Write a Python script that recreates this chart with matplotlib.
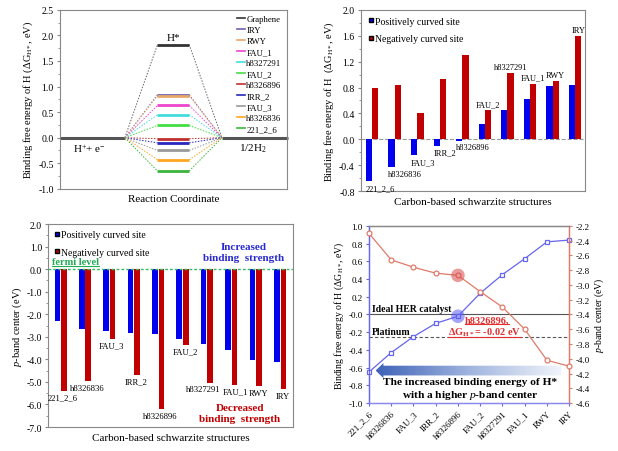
import matplotlib
matplotlib.use('Agg')
import matplotlib.pyplot as plt
import numpy as np
from matplotlib.patches import FancyArrow
from matplotlib.lines import Line2D
from matplotlib.colors import LinearSegmentedColormap
from matplotlib.ticker import AutoMinorLocator, FormatStrFormatter

plt.rcParams['font.family'] = ['Liberation Serif', 'DejaVu Serif']
plt.rcParams['mathtext.fontset'] = 'custom'
plt.rcParams['mathtext.rm'] = 'Liberation Serif'
plt.rcParams['mathtext.it'] = 'Liberation Serif:italic'
plt.rcParams['mathtext.bf'] = 'Liberation Serif:bold'

# ---------------- data ----------------
structures = ['221_2_6', 'h8326836', 'FAU_3', 'IRR_2', 'h8326896',
              'FAU_2', 'h8327291', 'FAU_1', 'RWY', 'IRY']
dg_pos = [-0.65, -0.43, -0.25, -0.10, -0.02, 0.24, 0.45, 0.63, 0.82, 0.84]
dg_neg = [0.79, 0.84, 0.40, 0.93, 1.30, 0.45, 1.02, 0.86, 0.90, 1.59]
pb_pos = [-2.30, -2.66, -2.76, -2.84, -2.87, -3.09, -3.30, -3.60, -4.02, -4.10]
pb_neg = [-5.40, -4.97, -3.10, -4.70, -6.22, -3.37, -5.05, -5.12, -5.20, -5.33]

level_names = ['Graphene', 'IRY', 'RWY', 'FAU_1', 'h8327291', 'FAU_2',
               'h8326896', 'IRR_2', 'FAU_3', 'h8326836', '221_2_6']
level_values = [1.82, 0.84, 0.82, 0.63, 0.45, 0.24, -0.02, -0.10, -0.25, -0.43, -0.65]
level_colors = ['#333333', '#7060B0', '#E8A868', '#EE44CC', '#44DDDD', '#44DD44',
                '#C03030', '#2828C0', '#999999', '#FFA520', '#3CB43C']
platinum_dg = -0.255
highlight = 'h8326896'

# small horizontal nudges for crowded labels in the p-band panel (layout only)
label_nudge_bl = {'h8327291': -0.27, 'FAU_1': 0.08}

fig = plt.figure(figsize=(6.18, 4.52), dpi=100)
GRAY = '#888888'
BLUE = '#0000EE'
RED = '#C00000'


def style_spines(ax, color=GRAY):
    for s in ax.spines.values():
        s.set_color(color)
        s.set_linewidth(0.8)


def underline(ax, txt, color, lw=0.8):
    fig.canvas.draw()
    bb = txt.get_window_extent()
    inv = ax.transAxes.inverted()
    (x0, y0), (x1, y1) = inv.transform([[bb.x0, bb.y0], [bb.x1, bb.y1]])
    ax.plot([x0, x1], [y0 + 0.004, y0 + 0.004], transform=ax.transAxes,
            color=color, lw=lw, clip_on=False)


# ---------------- top-left: energy diagram ----------------
ax1 = fig.add_axes([0.097, 0.580, 0.367, 0.396])
xl, xa, xb, xr = 0.286, 0.43, 0.57, 0.714
ax1.plot([0, xl], [0, 0], color='#555555', lw=2.2, solid_capstyle='butt')
ax1.plot([xr, 1.005], [0, 0], color='#555555', lw=2.2, solid_capstyle='butt', clip_on=False)
for name, v, c in zip(level_names, level_values, level_colors):
    cc = c if name != 'Graphene' else '#666666'
    ax1.plot([xl, xa], [0, v], color=cc, lw=0.7, ls=(0, (1.5, 1.5)))
    ax1.plot([xb, xr], [v, 0], color=cc, lw=0.7, ls=(0, (1.5, 1.5)))
for name, v, c in zip(level_names, level_values, level_colors):
    ax1.plot([xa, xb], [v, v], color=c, lw=2.0, solid_capstyle='butt')
handles = [Line2D([0], [0], color=c, lw=1.2) for c in level_colors]
ax1.legend(handles, level_names, loc='upper right', frameon=False, fontsize=6.3,
           handlelength=0.9, handletextpad=0.15, labelspacing=0.33,
           borderaxespad=0.2)
ax1.text(0.5, 1.87, 'H*', ha='center', va='bottom', fontsize=8)
ax1.text(0.13, -0.08, 'H$^{+}$+ e$^{-}$', ha='center', va='top', fontsize=8)
ax1.text(0.85, -0.08, '1/2H$_2$', ha='center', va='top', fontsize=8)
ax1.set_xlim(0, 1)
ax1.set_ylim(-1.0, 2.5)
ax1.set_yticks(np.arange(-1.0, 2.51, 0.5))
ax1.yaxis.set_major_formatter(FormatStrFormatter('%.1f'))
ax1.yaxis.set_minor_locator(AutoMinorLocator(2))
ax1.set_xticks([])
ax1.tick_params(axis='y', which='both', labelsize=7, direction='out', length=2.5,
                color=GRAY, pad=2)
ax1.tick_params(axis='y', which='minor', length=1.5)
ax1.set_ylabel('Binding free energy of H (ΔG$_{\\mathrm{H*}}$, eV)', fontsize=7.5, labelpad=2)
ax1.set_xlabel('Reaction Coordinate', fontsize=8, labelpad=4)
style_spines(ax1)

# ---------------- top-right: ΔG bars ----------------
ax2 = fig.add_axes([0.584, 0.575, 0.363, 0.401])
x = np.arange(len(structures))
w = 0.28
ax2.bar(x - w / 2, dg_pos, w, color=BLUE, zorder=2)
ax2.bar(x + w / 2, dg_neg, w, color=RED, zorder=2)
ax2.axhline(0, color='#999999', ls='--', lw=0.8, zorder=1)
for i, s in enumerate(structures):
    if dg_pos[i] < 0:
        ax2.text(x[i] - w, dg_pos[i] - 0.04, s, ha='left', va='top', fontsize=6)
    else:
        ax2.text(x[i] + w / 2, dg_neg[i] + 0.03, s, ha='center', va='bottom', fontsize=6)
leg_h = [Line2D([0], [0], marker='s', color='none', markerfacecolor=BLUE, markersize=3.5),
         Line2D([0], [0], marker='s', color='none', markerfacecolor=RED, markersize=3.5)]
ax2.legend(leg_h, ['Positively curved site', 'Negatively curved site'], loc='upper left',
           frameon=False, fontsize=7, handlelength=0.6, handletextpad=0.1,
           labelspacing=0.9, borderaxespad=0.3)
ax2.set_xlim(-0.5, 9.45)
ax2.set_ylim(-0.8, 2.0)
ax2.set_yticks(np.arange(-0.8, 2.01, 0.4))
ax2.yaxis.set_major_formatter(FormatStrFormatter('%.1f'))
ax2.yaxis.set_minor_locator(AutoMinorLocator(2))
ax2.set_xticks([])
ax2.tick_params(axis='y', which='both', labelsize=7, direction='out', length=2.5,
                color=GRAY, pad=2)
ax2.tick_params(axis='y', which='minor', length=1.5)
ax2.set_ylabel('Binding free energy of H  (ΔG$_{\\mathrm{H*}}$, eV)', fontsize=7.5, labelpad=2)
ax2.set_xlabel('Carbon-based schwarzite structures', fontsize=8, labelpad=4)
style_spines(ax2)

# ---------------- bottom-left: p-band centre bars ----------------
ax3 = fig.add_axes([0.078, 0.053, 0.396, 0.449])
wb = 0.23
off = 0.135
ax3.bar(x - off, pb_pos, wb, color=BLUE, zorder=2)
ax3.bar(x + off, pb_neg, wb, color=RED, zorder=2)
ax3.axhline(0, color='#33BB66', ls=(0, (2, 1.5)), lw=1.0, zorder=3)
for i, s in enumerate(structures):
    ax3.text(x[i] + 0.1 + label_nudge_bl.get(s, 0.0), pb_neg[i] - 0.1, s,
             ha='center', va='top', fontsize=6.2)
ax3.legend(leg_h, ['Positively curved site', 'Negatively curved site'], loc='upper left',
           frameon=False, fontsize=7, handlelength=0.6, handletextpad=0.1,
           labelspacing=0.9, borderaxespad=0.2)
fl = ax3.text(-0.36, 0.32, 'fermi level', ha='left', va='center', fontsize=7.5,
              color='#22AA55', fontweight='bold')
ax3.text(7.5, 0.77, 'Increased\nbinding  strength', ha='center', va='center',
         fontsize=8, color='#2A2AD0', fontweight='bold', linespacing=1.2)
ax3.text(7.36, -6.38, 'Decreased\nbinding  strength', ha='center', va='center',
         fontsize=8, color=RED, fontweight='bold', linespacing=1.2)
ax3.set_xlim(-0.51, 9.53)
ax3.set_ylim(-7.0, 2.0)
ax3.set_yticks(np.arange(-7.0, 2.01, 1.0))
ax3.yaxis.set_major_formatter(FormatStrFormatter('%.1f'))
ax3.yaxis.set_minor_locator(AutoMinorLocator(2))
ax3.set_xticks([])
ax3.tick_params(axis='y', which='both', labelsize=7, direction='out', length=2.5,
                color=GRAY, pad=2)
ax3.tick_params(axis='y', which='minor', length=1.5)
ax3.set_ylabel('$p$-band center (eV)', fontsize=7.5, labelpad=2)
ax3.set_xlabel('Carbon-based schwarzite structures', fontsize=8, labelpad=4)
style_spines(ax3)

# ---------------- bottom-right: correlation ----------------
ax4 = fig.add_axes([0.597, 0.106, 0.324, 0.392])
LB = '#6666EE'
LR = '#E07A6A'
ax4.axhline(0, color='#555555', lw=0.8, zorder=1)
ax4.axhline(platinum_dg, color='#555555', lw=0.8, ls=(0, (3, 2)), zorder=1)

# gradient arrow
arrow = FancyArrow(8.65, -0.633, -8.35, 0, width=0.11, head_width=0.17,
                   head_length=0.35, length_includes_head=True,
                   facecolor='none', edgecolor='none', transform=ax4.transData)
ax4.add_patch(arrow)
cmap = LinearSegmentedColormap.from_list('g', ['#3F62B8', '#9FB4DE', '#F2F5FB'])
grad = np.linspace(0, 1, 256).reshape(1, -1)
im = ax4.imshow(grad, extent=[0.3, 8.65, -0.73, -0.54], aspect='auto', cmap=cmap,
                zorder=1.5, interpolation='bilinear')
im.set_clip_path(arrow)

ax4.plot(x, dg_pos, color=LB, marker='s', mfc='white', mec=LB, ms=3.5, lw=0.9,
         mew=0.9, zorder=4, clip_on=False)
hi = structures.index(highlight)
ax4.scatter([x[hi]], [dg_pos[hi]], s=95, color='#5A5AF5', alpha=0.55, zorder=5,
            edgecolors='none')
ax4.set_xlim(0, 9)
ax4.set_ylim(-1.0, 1.0)
ax4.set_yticks(np.arange(-1.0, 1.01, 0.2))
ax4.yaxis.set_major_formatter(FormatStrFormatter('%.1f'))
ax4.set_xticks(x)
ax4.set_xticklabels(structures, rotation=45, ha='right', rotation_mode='anchor',
                    fontsize=6.5)
ax4.tick_params(axis='y', labelsize=6.5, direction='out', length=2.5, color=LB, pad=2)
ax4.tick_params(axis='x', direction='out', length=2.5, color=LB, pad=2)
ax4.set_ylabel('Binding free energy of H (ΔG$_{\\mathrm{H*}}$, eV)', fontsize=7, labelpad=2)

ax4.text(0.12, 0.02, 'Ideal HER catalyst', ha='left', va='bottom', fontsize=7,
         fontweight='bold', zorder=6)
ax4.text(0.15, platinum_dg + 0.015, 'Platinum', ha='left', va='bottom', fontsize=7,
         fontweight='bold', zorder=6)
t1 = ax4.text(5.31, -0.066, 'h8326896,', ha='center', va='center', fontsize=7.5,
              color='#E03030', fontweight='bold', zorder=6)
t2 = ax4.text(5.2, -0.19, 'ΔG$_{\\mathbf{H*}}$= -0.02 eV', ha='center', va='center',
              fontsize=7.5, color='#E03030', fontweight='bold', zorder=6)
ax4.text(4.54, -0.84, 'The increased binding energy of H*\nwith a higher $\\mathbf{\\mathit{p}}$-band center',
         ha='center', va='center', fontsize=8.2, fontweight='bold', linespacing=1.15,
         zorder=6)

ax5 = ax4.twinx()
ax5.plot(x, pb_pos, color=LR, marker='o', mfc='white', mec=LR, ms=3.5, lw=0.9,
         mew=0.9, zorder=4, clip_on=False)
ax5.scatter([x[hi]], [pb_pos[hi]], s=95, color='#D84A4A', alpha=0.55, zorder=5,
            edgecolors='none')
ax5.set_ylim(-4.6, -2.2)
ax5.set_yticks(np.arange(-4.6, -2.19, 0.2))
ax5.yaxis.set_major_formatter(FormatStrFormatter('%.1f'))
ax5.tick_params(axis='y', labelsize=6.5, direction='out', length=2.5, color=LR, pad=2)
ax5.set_ylabel('$p$-band center (eV)', fontsize=7, labelpad=2)

for a in (ax4, ax5):
    a.spines['left'].set_color(LB)
    a.spines['bottom'].set_color('#8888EE')
    a.spines['right'].set_color(LR)
    a.spines['top'].set_color('#888888')
    for s in a.spines.values():
        s.set_linewidth(0.9)

underline(ax3, fl, '#22AA55', lw=0.8)
underline(ax4, t1, '#E03030', lw=0.8)
underline(ax4, t2, '#E03030', lw=0.8)

fig.savefig('out.png', dpi=100)
